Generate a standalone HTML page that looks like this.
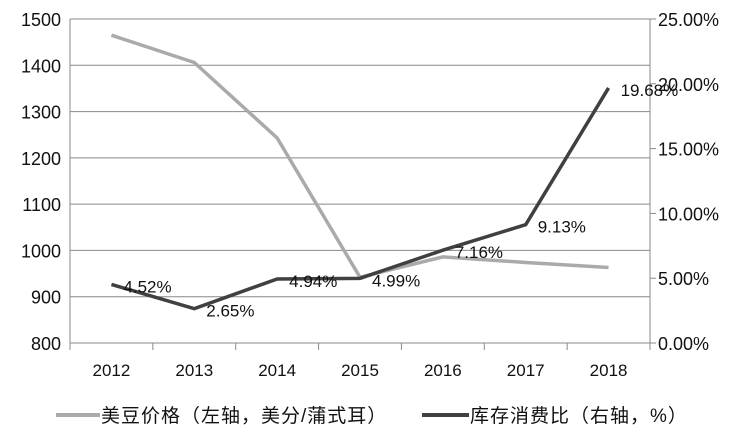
<!DOCTYPE html>
<html><head><meta charset="utf-8"><style>
body{margin:0;background:#fff;}
svg text{font-family:"Liberation Sans","Noto Sans CJK SC",sans-serif;fill:#111;}
</style></head><body>
<svg id="chart" width="741" height="433" xmlns="http://www.w3.org/2000/svg"></svg>
<script>
const categories=["2012","2013","2014","2015","2016","2017","2018"];
const priceValues=[1465,1406,1243,942,986,974,963];
const ratioValues=[4.52,2.65,4.94,4.99,7.16,9.13,19.68];
const ratioLabels=["4.52%","2.65%","4.94%","4.99%","7.16%","9.13%","19.68%"];
const leftTicks=[800,900,1000,1100,1200,1300,1400,1500];
const rightTicks=[0,5,10,15,20,25];

const NS="http://www.w3.org/2000/svg";
const svg=document.getElementById("chart");
const X0=70,X1=650,Y0=343,Y1=19;
const step=(X1-X0)/categories.length;
const xC=i=>X0+step*(i+0.5);
const yL=v=>Y0-(v-800)/700*(Y0-Y1);
const yR=v=>Y0-v/25*(Y0-Y1);
function el(tag,attrs,parent){const e=document.createElementNS(NS,tag);for(const k in attrs)e.setAttribute(k,attrs[k]);(parent||svg).appendChild(e);return e;}

leftTicks.forEach(t=>{
  const g=el("line",{x1:X0,x2:X1,y1:yL(t),y2:yL(t),stroke:"#888","stroke-width":1});
  
  
  const tx=el("text",{x:X0-9,y:yL(t)+7,"text-anchor":"end","font-size":18});
  tx.textContent=t;
  
  
});
rightTicks.forEach(t=>{
  el("line",{x1:X1,x2:X1+6,y1:yR(t),y2:yR(t),stroke:"#888"});
  const tx=el("text",{x:X1+8,y:yR(t)+7,"font-size":18});
  tx.textContent=t.toFixed(2)+"%";
  
  
});
el("line",{x1:X0,x2:X0,y1:Y1,y2:Y0+7,stroke:"#888"});
el("line",{x1:X1,x2:X1,y1:Y1,y2:Y0+7,stroke:"#888"});
for(let i=0;i<=categories.length;i++){el("line",{x1:X0+step*i,x2:X0+step*i,y1:Y0,y2:Y0+7,stroke:"#888"});}
categories.forEach((c,i)=>{
  const tx=el("text",{x:xC(i),y:376,"text-anchor":"middle","font-size":17});
  tx.textContent=c;
  
  
});

const pricePts=priceValues.map((v,i)=>xC(i)+","+yL(v)).join(" ");
const pl=el("polyline",{points:pricePts,fill:"none",stroke:"#aaa","stroke-width":3.5});


const ratioPts=ratioValues.map((v,i)=>xC(i)+","+yR(v)).join(" ");
const rl=el("polyline",{points:ratioPts,fill:"none",stroke:"#404040","stroke-width":3.5});


ratioValues.forEach((v,i)=>{
  const tx=el("text",{x:xC(i)+12,y:yR(v)+8,"font-size":17});
  tx.textContent=ratioLabels[i];
  
  
});

const l1=el("line",{x1:56,x2:100,y1:415,y2:415,stroke:"#aaa","stroke-width":4});


const t1=el("text",{x:101,y:422,"font-size":19,"letter-spacing":1});
t1.textContent="美豆价格（左轴，美分/蒲式耳）";


const l2=el("line",{x1:422,x2:469,y1:415,y2:415,stroke:"#404040","stroke-width":4});


const t2=el("text",{x:470,y:422,"font-size":19,"letter-spacing":1});
t2.textContent="库存消费比（右轴，%）";


</script>
</body></html>
